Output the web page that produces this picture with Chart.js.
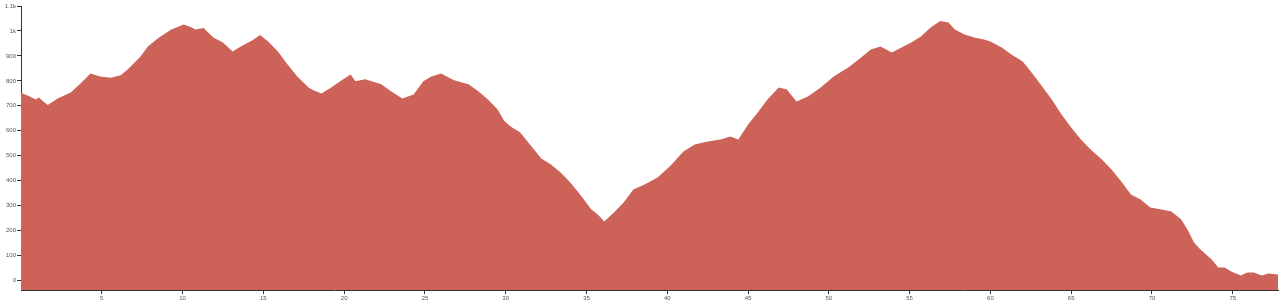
<!DOCTYPE html>
<html>
<head>
<meta charset="utf-8">
<script src="https://cdn.jsdelivr.net/npm/chart.js@4/dist/chart.umd.min.js"></script>
<style>
  body { margin: 0; background: #fff; }
  canvas { display: block; }
</style>
</head>
<body>
<canvas id="profile" width="1282" height="306"></canvas>
<script>
// distance along the route (x) and elevation (y)
const distances = [
  0, 0.5, 0.91, 1.1, 1.3, 1.65, 2.27, 3.08, 3.7, 4.3, 4.9, 5.55, 6.17, 6.6, 7.4, 7.85,
  8.5, 9.3, 10.07, 10.5, 10.8, 11.3, 11.9, 12.5, 13.1, 13.6, 14.3, 14.8, 15.3, 15.9,
  16.5, 17.1, 17.8, 18.1, 18.6, 19.2, 19.8, 20.4, 20.7, 21.3, 22.3, 22.9, 23.6, 24.3,
  24.9, 25.4, 26.0, 26.8, 27.7, 28.3, 28.9, 29.5, 29.9, 30.3, 30.9, 31.6, 32.2, 32.8,
  33.4, 34.0, 34.7, 35.3, 35.7, 36.1, 36.7, 37.3, 37.9, 38.6, 39.4, 40.2, 41.0, 41.7,
  42.5, 43.3, 43.9, 44.4, 45.0, 45.6, 46.2, 46.9, 47.4, 48.0, 48.7, 49.5, 50.3, 51.2,
  52.0, 52.6, 53.2, 53.9, 54.5, 55.1, 55.7, 56.3, 56.9, 57.4, 57.8, 58.4, 59.0, 59.6,
  60.0, 60.7, 61.3, 62.0, 62.5, 63.1, 63.8, 64.4, 65.0, 65.6, 66.2, 66.9, 67.5, 68.1,
  68.7, 69.3, 69.9, 70.6, 71.2, 71.8, 72.2, 72.6, 73.0, 73.7, 74.1, 74.5, 74.9, 75.5,
  75.9, 76.3, 76.8, 77.2, 77.8
];
const elevations = [
  752, 738, 725, 733, 722, 703, 729, 753, 790, 830, 818, 812, 823, 846, 898, 938,
  972, 1006, 1026, 1016, 1006, 1012, 974, 954, 918, 938, 962, 984, 958, 918,
  866, 818, 773, 762, 749, 773, 800, 826, 798, 806, 786, 758, 729, 745,
  798, 818, 830, 802, 786, 758, 725, 685, 640, 617, 593, 537, 489, 465,
  433, 393, 337, 285, 265, 236, 273, 313, 365, 385, 413, 460, 517, 545,
  557, 565, 577, 565, 625, 673, 725, 773, 765, 717, 737, 773, 818, 854,
  894, 926, 938, 914, 934, 954, 978, 1014, 1040, 1034, 1006, 986, 974, 966,
  958, 934, 906, 878, 838, 786, 725, 665, 613, 565, 525, 485, 445, 397,
  345, 325, 293, 285, 277, 245, 204, 152, 124, 84, 52, 52, 36, 20,
  32, 32, 20, 28, 24
];
const xTicks = [5, 10, 15, 20, 25, 30, 35, 40, 45, 50, 55, 60, 65, 70, 75];
const yTicks = [0, 100, 200, 300, 400, 500, 600, 700, 800, 900, 1000, 1100];

const points = distances.map((d, i) => ({ x: d, y: elevations[i] }));
const axisColor = "#333";
const font = { family: "Arial, 'Liberation Sans', sans-serif", size: 6 };

new Chart(document.getElementById("profile"), {
  type: "line",
  data: {
    datasets: [{
      data: points,
      fill: "start",
      backgroundColor: "rgb(205,98,88)",
      borderWidth: 0,
      pointRadius: 0,
      tension: 0
    }]
  },
  options: {
    responsive: false,
    animation: false,
    layout: { padding: { top: 6, right: 4, left: 0, bottom: 0 } },
    plugins: { legend: { display: false }, tooltip: { enabled: false } },
    scales: {
      x: {
        type: "linear",
        min: 0,
        max: 77.8,
        afterBuildTicks: s => { s.ticks = xTicks.map(v => ({ value: v })); },
        afterFit: s => { s.height = 16; },
        grid: { drawOnChartArea: false, drawTicks: true, tickLength: 4, color: axisColor },
        border: { display: true, color: axisColor, width: 1 },
        ticks: { color: "#555", font, padding: 1, maxRotation: 0 }
      },
      y: {
        min: -38,
        max: 1100,
        afterBuildTicks: s => { s.ticks = yTicks.map(v => ({ value: v })); },
        afterFit: s => { s.width = 21; },
        grid: { drawOnChartArea: false, drawTicks: true, tickLength: 4, color: axisColor },
        border: { display: true, color: axisColor, width: 1 },
        ticks: {
          color: "#555", font, padding: 1,
          callback: v => v >= 1000 ? (v / 1000) + "k" : v
        }
      }
    }
  }
});
</script>
</body>
</html>
